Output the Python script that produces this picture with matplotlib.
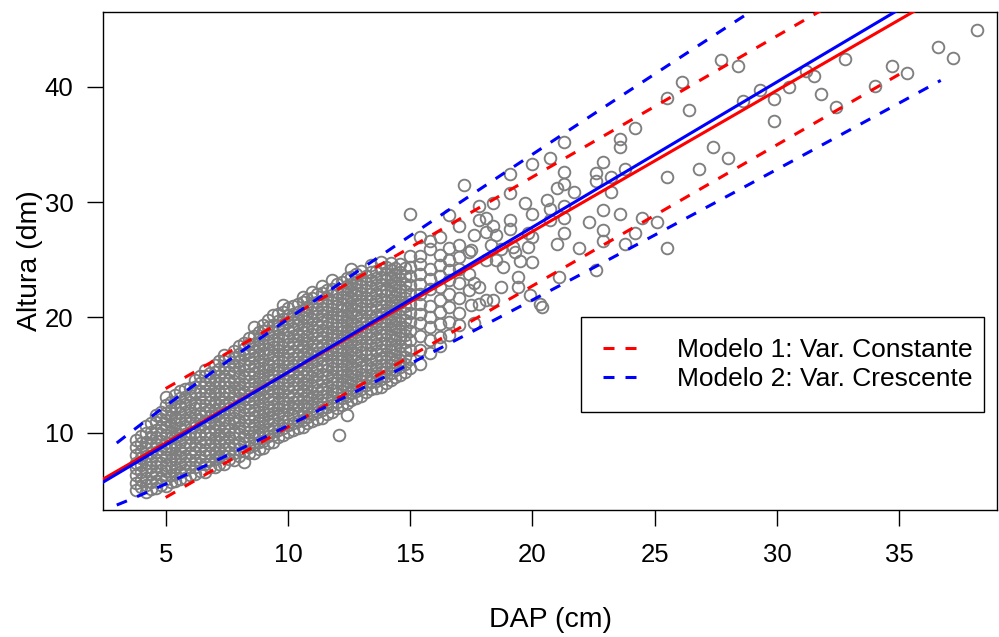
import numpy as np
import matplotlib
matplotlib.use("Agg")
import matplotlib.pyplot as plt
from matplotlib.patches import Rectangle

plt.rcParams["font.family"] = ["Liberation Sans", "DejaVu Sans"]

# nuvem densa, colunas de DAP (cm) com as alturas (dm)
dap_cloud_a = [3.8, 4.2, 4.6, 5.0, 5.4, 5.8, 6.2, 6.6, 7.0, 7.4, 7.8, 8.2, 8.6,
               9.0, 9.4, 9.8, 10.2, 10.6, 11.0, 11.4, 11.8, 12.2, 12.6, 13.0,
               13.4, 13.8, 14.2, 14.6, 15.0, 15.4, 15.8, 16.2, 16.6, 17.0]
alt_cloud_a = [
    [5.0, 5.6, 6.3, 6.9, 7.4, 8.1, 8.8, 9.4],
    [4.9, 5.5, 6.1, 6.8, 7.4, 8.0, 8.7, 9.2, 10.0, 10.6],
    [5.2, 5.8, 6.5, 7.1, 7.6, 8.3, 9.0, 9.6, 10.2, 10.9, 11.5],
    [5.4, 6.0, 6.7, 7.2, 7.9, 8.6, 9.1, 9.8, 10.5, 11.1, 11.7, 12.4, 13.1],
    [5.8, 6.4, 7.0, 7.7, 8.2, 8.9, 9.6, 10.2, 10.8, 11.4, 12.1, 12.7, 13.3],
    [6.1, 6.8, 7.4, 8.0, 8.7, 9.2, 9.9, 10.6, 11.2, 11.8, 12.5, 13.1, 13.8],
    [6.4, 7.0, 7.6, 8.3, 8.9, 9.6, 10.1, 10.8, 11.5, 12.1, 12.6, 13.4, 14.0, 14.6],
    [6.6, 7.3, 8.0, 8.5, 9.2, 9.9, 10.5, 11.0, 11.8, 12.4, 13.0, 13.6, 14.3, 14.9, 15.4],
    [7.0, 7.7, 8.3, 8.9, 9.5, 10.2, 10.8, 11.5, 12.0, 12.7, 13.4, 14.0, 14.6, 15.3, 15.9],
    [7.3, 8.0, 8.6, 9.2, 9.9, 10.4, 11.1, 11.8, 12.4, 13.0, 13.6, 14.3, 14.9, 15.6, 16.2, 16.7],
    [7.6, 8.2, 8.9, 9.5, 10.1, 10.8, 11.3, 12.0, 12.7, 13.3, 13.9, 14.5, 15.2, 15.8, 16.5, 17.1],
    [7.5, 8.4, 9.1, 9.7, 10.4, 11.0, 11.6, 12.2, 12.9, 13.5, 14.2, 14.8, 15.4, 16.0, 16.7, 17.3, 17.8],
    [8.2, 8.9, 9.5, 10.1, 10.7, 11.4, 12.0, 12.7, 13.3, 13.9, 14.5, 15.2, 15.8, 16.5, 17.1, 17.7, 18.4, 19.2],
    [8.7, 9.3, 10.0, 10.6, 11.2, 11.8, 12.5, 13.1, 13.8, 14.4, 15.0, 15.6, 16.3, 16.9, 17.6, 18.2, 18.8, 19.3],
    [9.2, 9.8, 10.4, 11.1, 11.7, 12.3, 12.9, 13.6, 14.2, 14.9, 15.5, 16.1, 16.7, 17.4, 18.0, 18.7, 19.3, 20.2],
    [9.8, 10.4, 11.0, 11.6, 12.3, 12.9, 13.6, 14.2, 14.8, 15.4, 16.1, 16.7, 17.4, 18.0, 18.6, 19.2, 19.9, 20.5, 21.1],
    [10.2, 10.8, 11.5, 12.1, 12.7, 13.3, 14.0, 14.6, 15.3, 15.9, 16.5, 17.1, 17.8, 18.4, 19.1, 19.7, 20.3, 21.0],
    [10.5, 11.1, 11.7, 12.4, 13.0, 13.7, 14.3, 14.9, 15.5, 16.2, 16.8, 17.5, 18.1, 18.7, 19.3, 20.0, 20.6, 21.3, 21.8],
    [11.0, 11.6, 12.3, 12.9, 13.5, 14.1, 14.8, 15.4, 16.1, 16.7, 17.3, 17.9, 18.6, 19.2, 19.9, 20.5, 21.1, 21.7, 22.2],
    [11.3, 12.0, 12.6, 13.2, 13.8, 14.5, 15.1, 15.8, 16.4, 17.0, 17.6, 18.3, 18.9, 19.6, 20.2, 20.8, 21.4, 22.1, 22.7],
    [11.8, 12.4, 13.1, 13.7, 14.3, 14.9, 15.6, 16.2, 16.9, 17.5, 18.1, 18.7, 19.4, 20.0, 20.7, 21.3, 21.9, 22.5, 23.2],
    [12.4, 13.0, 13.6, 14.2, 14.9, 15.5, 16.2, 16.8, 17.4, 18.0, 18.7, 19.3, 20.0, 20.6, 21.2, 21.8, 22.5, 23.1],
    [12.8, 13.4, 14.1, 14.7, 15.3, 15.9, 16.6, 17.2, 17.9, 18.5, 19.1, 19.7, 20.4, 21.0, 21.7, 22.3, 22.9, 23.5, 24.2],
    [13.2, 13.8, 14.5, 15.1, 15.7, 16.3, 17.0, 17.6, 18.3, 18.9, 19.5, 20.1, 20.8, 21.4, 22.1, 22.7, 23.3, 24.0],
    [13.8, 14.4, 15.0, 15.6, 16.3, 16.9, 17.6, 18.2, 18.8, 19.4, 20.1, 20.7, 21.4, 22.0, 22.6, 23.2, 23.9, 24.5],
    [14.0, 14.7, 15.3, 15.9, 16.5, 17.2, 17.8, 18.5, 19.1, 19.7, 20.3, 21.0, 21.6, 22.3, 22.9, 23.5, 24.2, 24.8],
    [14.6, 15.2, 15.9, 16.5, 17.1, 17.7, 18.4, 19.0, 19.7, 20.3, 20.9, 21.5, 22.2, 22.8, 23.5, 24.1, 24.7],
    [15.0, 15.7, 16.3, 16.9, 17.5, 18.2, 18.8, 19.5, 20.1, 20.7, 21.3, 22.0, 22.6, 23.3, 23.9, 24.6],
    [15.6, 16.4, 17.2, 18.0, 18.8, 19.6, 20.4, 21.2, 22.0, 22.8, 23.6, 24.4, 25.3, 29.0],
    [16.0, 17.2, 18.4, 19.5, 20.3, 21.2, 22.0, 22.9, 23.8, 24.6, 25.3, 27.0],
    [16.9, 18.0, 19.2, 20.0, 21.0, 22.5, 23.3, 24.2, 25.9, 26.6],
    [17.5, 18.3, 19.4, 20.5, 21.5, 22.6, 23.6, 24.5, 25.4, 27.0],
    [18.5, 19.6, 20.9, 22.0, 23.2, 24.1, 25.0, 26.0, 28.9],
    [19.3, 20.4, 21.7, 23.0, 24.2, 25.2, 26.3, 27.9],
]
dap_cloud_b = [4.0, 4.4, 4.8, 5.2, 5.6, 6.0, 6.4, 6.8, 7.2, 7.6, 8.0, 8.4, 8.8,
               9.2, 9.6, 10.0, 10.4, 10.8, 11.2, 11.6, 12.0, 12.4, 12.8, 13.2,
               13.6, 14.0, 14.4, 14.8]
alt_cloud_b = [
    [5.3, 5.9, 6.6, 7.2, 7.8, 8.4, 9.1, 9.7],
    [5.1, 5.7, 6.4, 7.0, 7.6, 8.2, 8.9, 9.5, 10.1, 10.8],
    [5.5, 6.1, 6.8, 7.4, 8.0, 8.6, 9.3, 9.9, 10.5, 11.2, 11.8],
    [5.7, 6.3, 7.0, 7.6, 8.2, 8.8, 9.5, 10.1, 10.7, 11.4, 12.0, 12.7],
    [6.0, 6.6, 7.3, 7.9, 8.5, 9.2, 9.8, 10.4, 11.1, 11.7, 12.3, 13.0, 13.6],
    [6.3, 7.0, 7.6, 8.2, 8.9, 9.5, 10.1, 10.8, 11.4, 12.0, 12.7, 13.3, 13.9],
    [6.7, 7.3, 7.9, 8.6, 9.2, 9.8, 10.5, 11.1, 11.7, 12.4, 13.0, 13.6, 14.3, 14.9],
    [7.0, 7.6, 8.2, 8.9, 9.5, 10.1, 10.8, 11.4, 12.0, 12.7, 13.3, 13.9, 14.6, 15.2],
    [7.3, 7.9, 8.6, 9.2, 9.8, 10.5, 11.1, 11.7, 12.4, 13.0, 13.6, 14.3, 14.9, 15.5, 16.2],
    [7.7, 8.3, 8.9, 9.6, 10.2, 10.8, 11.5, 12.1, 12.7, 13.4, 14.0, 14.6, 15.3, 15.9, 16.5],
    [8.0, 8.6, 9.2, 9.9, 10.5, 11.1, 11.8, 12.4, 13.0, 13.7, 14.3, 14.9, 15.6, 16.2, 16.8, 17.5],
    [8.2, 8.8, 9.4, 10.1, 10.7, 11.3, 12.0, 12.6, 13.2, 13.9, 14.5, 15.1, 15.8, 16.4, 17.0, 17.7, 18.2],
    [8.6, 9.2, 9.9, 10.5, 11.1, 11.8, 12.4, 13.0, 13.7, 14.3, 14.9, 15.6, 16.2, 16.8, 17.5, 18.1, 18.7],
    [9.1, 9.7, 10.3, 11.0, 11.6, 12.2, 12.9, 13.5, 14.1, 14.8, 15.4, 16.0, 16.7, 17.3, 17.9, 18.6, 19.2, 19.8],
    [9.6, 10.2, 10.8, 11.5, 12.1, 12.7, 13.4, 14.0, 14.6, 15.3, 15.9, 16.5, 17.2, 17.8, 18.4, 19.1, 19.7, 20.3],
    [10.1, 10.7, 11.3, 12.0, 12.6, 13.2, 13.9, 14.5, 15.1, 15.8, 16.4, 17.0, 17.7, 18.3, 18.9, 19.6, 20.2, 20.8],
    [10.4, 11.0, 11.7, 12.3, 12.9, 13.6, 14.2, 14.8, 15.5, 16.1, 16.7, 17.4, 18.0, 18.6, 19.3, 19.9, 20.5, 21.2],
    [10.8, 11.4, 12.1, 12.7, 13.3, 14.0, 14.6, 15.2, 15.9, 16.5, 17.1, 17.8, 18.4, 19.0, 19.7, 20.3, 20.9, 21.6],
    [11.2, 11.8, 12.5, 13.1, 13.7, 14.4, 15.0, 15.6, 16.3, 16.9, 17.5, 18.2, 18.8, 19.4, 20.1, 20.7, 21.3, 22.0],
    [11.6, 12.2, 12.9, 13.5, 14.1, 14.8, 15.4, 16.0, 16.7, 17.3, 17.9, 18.6, 19.2, 19.8, 20.5, 21.1, 21.7, 22.4],
    [12.1, 12.7, 13.4, 14.0, 14.6, 15.3, 15.9, 16.5, 17.2, 17.8, 18.4, 19.1, 19.7, 20.3, 21.0, 21.6, 22.2, 22.9],
    [12.6, 13.2, 13.9, 14.5, 15.1, 15.8, 16.4, 17.0, 17.7, 18.3, 18.9, 19.6, 20.2, 20.8, 21.5, 22.1, 22.7, 23.4],
    [13.0, 13.6, 14.3, 14.9, 15.5, 16.2, 16.8, 17.4, 18.1, 18.7, 19.3, 20.0, 20.6, 21.2, 21.9, 22.5, 23.1, 23.8],
    [13.5, 14.1, 14.8, 15.4, 16.0, 16.7, 17.3, 17.9, 18.6, 19.2, 19.8, 20.5, 21.1, 21.7, 22.4, 23.0, 23.6],
    [13.9, 14.5, 15.2, 15.8, 16.4, 17.1, 17.7, 18.3, 19.0, 19.6, 20.2, 20.9, 21.5, 22.1, 22.8, 23.4, 24.0],
    [14.3, 14.9, 15.6, 16.2, 16.8, 17.5, 18.1, 18.7, 19.4, 20.0, 20.6, 21.3, 21.9, 22.5, 23.2, 23.8, 24.4],
    [14.8, 15.4, 16.1, 16.7, 17.3, 18.0, 18.6, 19.2, 19.9, 20.5, 21.1, 21.8, 22.4, 23.0, 23.7, 24.3],
    [15.3, 16.0, 16.6, 17.2, 17.9, 18.5, 19.1, 19.8, 20.4, 21.0, 21.7, 22.3, 22.9, 23.6, 24.3],
]

# pontos isolados
dap_sparse = [12.1, 12.4, 17.2, 17.4, 17.4, 17.4, 17.5, 17.6, 17.5, 17.6, 17.6,
              17.8, 17.8, 17.8, 17.8, 18.1, 18.1, 18.1, 18.1, 18.3, 18.4, 18.4,
              18.5, 18.4, 18.5, 18.7, 18.7, 18.8, 19.1, 19.1, 19.1, 19.1, 19.2,
              19.3, 19.4, 19.4, 19.5, 19.7, 19.8, 19.8, 19.9, 20.0, 20.0, 20.0,
              20.0, 20.3, 20.4, 20.6, 20.7, 20.7, 20.7, 21.0, 21.0, 21.1, 21.3,
              21.3, 21.3, 21.3, 21.3, 21.3, 21.7, 21.9, 22.3, 22.6, 22.6, 22.6,
              22.9, 22.9, 22.9, 22.9, 23.2, 23.2, 23.6, 23.6, 23.6, 23.8, 23.8,
              24.2, 24.2, 24.5, 25.1, 25.5, 25.5, 25.5, 26.1, 26.4, 26.8, 27.4,
              27.7, 28.0, 28.4, 28.6, 29.3, 29.9, 29.9, 30.5, 31.2, 31.5, 31.8,
              32.4, 32.8, 34.0, 34.7, 35.3, 36.6, 37.2, 38.2]
alt_sparse = [9.8, 11.5, 31.5, 25.7, 23.8, 22.4, 21.1, 27.1, 25.8, 23.0, 19.5,
              29.7, 28.4, 22.6, 21.2, 28.6, 27.4, 25.0, 21.5, 26.3, 29.9, 27.9,
              27.1, 21.5, 25.0, 25.9, 22.6, 24.4, 32.4, 30.8, 28.4, 27.7, 26.1,
              25.7, 23.5, 22.6, 24.9, 29.9, 27.3, 26.1, 21.9, 33.3, 29.0, 27.0,
              24.8, 21.2, 20.9, 30.2, 33.8, 29.4, 28.4, 31.2, 26.4, 23.5, 35.2,
              32.6, 31.6, 29.7, 28.6, 27.3, 30.9, 26.0, 28.3, 32.5, 31.8, 24.1,
              33.5, 29.3, 27.6, 26.6, 32.2, 30.9, 35.5, 34.8, 29.0, 32.9, 26.4,
              36.4, 27.3, 28.6, 28.3, 32.2, 26.0, 39.0, 40.4, 38.0, 32.9, 34.8,
              42.3, 33.8, 41.8, 38.8, 39.7, 38.9, 37.0, 40.0, 41.4, 40.9, 39.4,
              38.2, 42.4, 40.1, 41.8, 41.2, 43.4, 42.5, 44.9]

# retas ajustadas (intercepto, inclinacao)
coef_m1 = (2.99, 1.223)
coef_m2 = (2.64, 1.259)
# intervalo de predicao
hw_m1 = 4.72                     # meia-largura constante
hw_m2 = (1.64, 0.45)             # meia-largura = a * DAP^b
range_m1 = (5.0, 35.0)
range_m2 = (3.0, 36.7)


def flatten(cols, alts):
    xs = np.concatenate([np.full(len(a), d) for d, a in zip(cols, alts)])
    ys = np.concatenate([np.array(a) for a in alts])
    return xs, ys


xa, ya = flatten(dap_cloud_a, alt_cloud_a)
xb, yb = flatten(dap_cloud_b, alt_cloud_b)
dap = np.concatenate([xa, xb, dap_sparse])
altura = np.concatenate([ya, yb, alt_sparse])

fig = plt.figure(figsize=(9.99, 6.37), dpi=100)
ax = fig.add_axes([0.1034, 0.1994, 0.8946, 0.7818])

ax.plot(dap, altura, linestyle="none", marker="o", markersize=8.4,
        markerfacecolor="none", markeredgecolor="#7f7f7f", markeredgewidth=1.35,
        zorder=2)

xl = np.array([0, 45])
ax.plot(xl, coef_m1[0] + coef_m1[1] * xl, color="red", lw=2.2, zorder=3)
ax.plot(xl, coef_m2[0] + coef_m2[1] * xl, color="blue", lw=2.2, zorder=4)

x1 = np.linspace(range_m1[0], range_m1[1], 100)
y1 = coef_m1[0] + coef_m1[1] * x1
ax.plot(x1, y1 + hw_m1, color="red", lw=2.2, dashes=(3.6, 3.6), zorder=3)
ax.plot(x1, y1 - hw_m1, color="red", lw=2.2, dashes=(3.6, 3.6), zorder=3)

x2 = np.linspace(range_m2[0], range_m2[1], 100)
y2 = coef_m2[0] + coef_m2[1] * x2
w2 = hw_m2[0] * x2 ** hw_m2[1]
ax.plot(x2, y2 + w2, color="blue", lw=2.2, dashes=(3.6, 3.6), zorder=4)
ax.plot(x2, y2 - w2, color="blue", lw=2.2, dashes=(3.6, 3.6), zorder=4)

ax.set_xlim(2.45, 39.0)
ax.set_ylim(3.30, 46.48)
ax.set_xticks([5, 10, 15, 20, 25, 30, 35])
ax.set_yticks([10, 20, 30, 40])
ax.tick_params(length=11.5, width=1.0, labelsize=18.5, direction="out")
ax.tick_params(axis="x", pad=12)
ax.tick_params(axis="y", pad=10)
for s in ax.spines.values():
    s.set_linewidth(1.0)

ax.set_xlabel("DAP (cm)", fontsize=20.5)
ax.xaxis.set_label_coords(0.5, -0.221)
ax.xaxis.label.set_va("center")
ax.set_ylabel("Altura (dm)", fontsize=20.5)
ax.yaxis.set_label_coords(-0.082, 0.5)
ax.yaxis.label.set_va("center")

# caixa da legenda
ax.add_patch(Rectangle((0.535, 0.197), 0.45, 0.19, transform=ax.transAxes,
                       facecolor="white", edgecolor="black", lw=1.0, zorder=5))
h1, = ax.plot([], [], color="red", lw=2.2, dashes=(3.6, 3.6))
h2, = ax.plot([], [], color="blue", lw=2.2, dashes=(3.6, 3.6))
leg = ax.legend([h1, h2], ["Modelo 1: Var. Constante", "Modelo 2: Var. Crescente"],
                loc="center left", bbox_to_anchor=(0.559, 0.292), borderaxespad=0,
                borderpad=0, fontsize=19, frameon=False, handlelength=1.52,
                handletextpad=1.29, labelspacing=0.2)
leg.set_zorder(6)

fig.savefig("out.png", dpi=100)
